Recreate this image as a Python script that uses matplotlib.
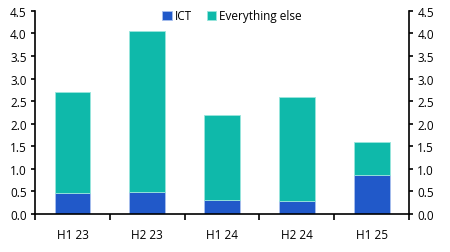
import matplotlib.pyplot as plt
import numpy as np

plt.rcParams['font.family'] = ['Open Sans', 'DejaVu Sans']

periods = ["H1 23", "H2 23", "H1 24", "H2 24", "H1 25"]
ict = [0.47, 0.49, 0.32, 0.30, 0.86]
total = [2.71, 4.05, 2.20, 2.59, 1.60]
rest = [t - i for t, i in zip(total, ict)]

blue = '#2159c9'
teal = '#0fb9aa'

fig = plt.figure(figsize=(4.5, 2.53), dpi=100)
ax = fig.add_axes([0.078, 0.150, 0.831, 0.803])

x = np.arange(len(periods))
ax.bar(x, ict, width=0.48, color=blue, edgecolor='#a9c0ee', linewidth=0.6, label='ICT')
ax.bar(x, rest, width=0.48, bottom=ict, color=teal, edgecolor='#9ae6dd', linewidth=0.6, label='Everything else')

ax.set_xlim(-0.5, len(periods) - 0.5)
ax.set_ylim(0, 4.5)
ax.set_yticks(np.arange(0, 4.51, 0.5))
ax.set_yticklabels([f"{v:.1f}" for v in np.arange(0, 4.51, 0.5)])
ax.set_xticks(x)
ax.set_xticklabels(periods)
ax.set_xticks(np.arange(-0.5, len(periods), 1), minor=True)
ax.tick_params(axis='x', which='major', length=0, pad=10, labelsize=8.5)
ax.tick_params(axis='x', which='minor', length=4, width=1.2, direction='out')
ax.tick_params(axis='y', length=3, width=1.2, labelsize=8.5, right=True, labelright=True, pad=3)

ax.spines['top'].set_visible(False)
for s in ['left', 'right', 'bottom']:
    ax.spines[s].set_linewidth(1.2)

ax.legend(loc='upper center', bbox_to_anchor=(0.527, 1.06), ncol=2, frameon=False,
          fontsize=8.5, handlelength=0.8, handleheight=0.8, handletextpad=0.3,
          columnspacing=1.2)

fig.savefig('out.png', dpi=100)
